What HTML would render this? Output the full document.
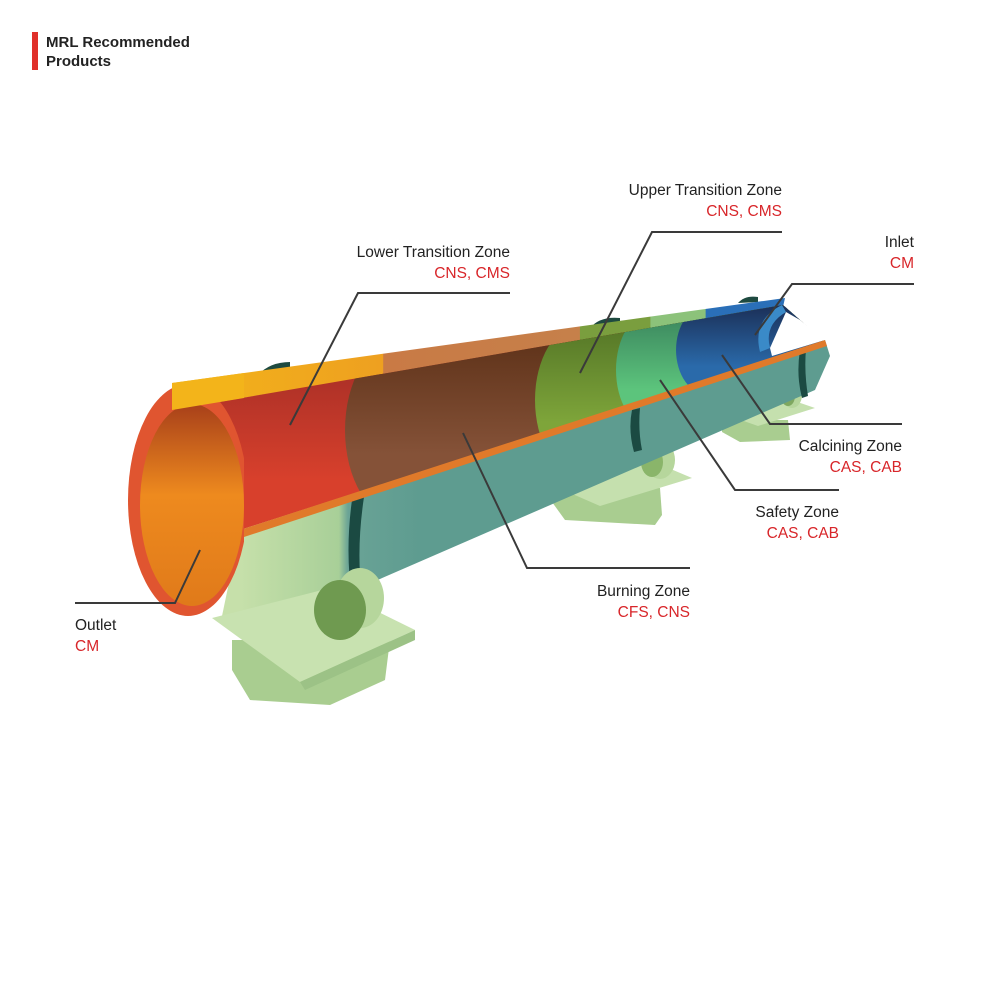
<!DOCTYPE html>
<html><head><meta charset="utf-8"><style>
html,body{margin:0;padding:0;background:#fff}
svg{display:block;font-family:"Liberation Sans",sans-serif}
</style></head><body>
<svg width="1000" height="1000" viewBox="0 0 1000 1000" xmlns="http://www.w3.org/2000/svg">
<defs>
<linearGradient id="strip" gradientUnits="userSpaceOnUse" x1="172" y1="0" x2="785" y2="0">
<stop offset="0" stop-color="#f3b41a"/><stop offset="0.344" stop-color="#eea020"/>
<stop offset="0.345" stop-color="#c97a45"/><stop offset="0.665" stop-color="#c6804a"/>
<stop offset="0.666" stop-color="#7a9e3e"/><stop offset="0.78" stop-color="#7a9e3e"/>
<stop offset="0.781" stop-color="#8cc27a"/><stop offset="0.87" stop-color="#8cc27a"/>
<stop offset="0.871" stop-color="#2a6fb8"/><stop offset="1" stop-color="#2a6fb8"/>
</linearGradient>
<linearGradient id="shell" gradientUnits="userSpaceOnUse" x1="240" y1="0" x2="420" y2="0">
<stop offset="0" stop-color="#c6e0aa"/><stop offset="0.55" stop-color="#a8cf98"/><stop offset="0.6" stop-color="#6aa396"/><stop offset="1" stop-color="#5e9c90"/>
</linearGradient>
<linearGradient id="red" x1="0" y1="0" x2="0" y2="1"><stop offset="0" stop-color="#8e2624"/><stop offset="0.6" stop-color="#d8402c"/></linearGradient>
<linearGradient id="brown" x1="0" y1="0" x2="0" y2="1"><stop offset="0" stop-color="#52280f"/><stop offset="0.7" stop-color="#855238"/></linearGradient>
<linearGradient id="olive" x1="0" y1="0" x2="0" y2="1"><stop offset="0" stop-color="#4a6a22"/><stop offset="0.7" stop-color="#7ea53a"/></linearGradient>
<linearGradient id="green" x1="0" y1="0" x2="0" y2="1"><stop offset="0" stop-color="#357a58"/><stop offset="0.7" stop-color="#5cc47c"/></linearGradient>
<linearGradient id="blue" x1="0" y1="0" x2="0" y2="1"><stop offset="0" stop-color="#1a2a50"/><stop offset="0.7" stop-color="#2a6aaa"/></linearGradient>
<linearGradient id="orange" x1="0" y1="0" x2="0" y2="1"><stop offset="0" stop-color="#a8401a"/><stop offset="0.45" stop-color="#ee8a1e"/><stop offset="1" stop-color="#e07a1a"/></linearGradient>
<clipPath id="inner"><polygon points="172,410 783,305 825,342 240,530 172,560"/></clipPath>
<clipPath id="leftc"><rect x="0" y="0" width="244" height="1000"/></clipPath>
</defs>

<rect x="32" y="32" width="6" height="38" fill="#e0302a"/>
<text x="46" y="47" font-size="15" font-weight="bold" fill="#222">MRL Recommended</text>
<text x="46" y="66" font-size="15" font-weight="bold" fill="#222">Products</text>

<polygon points="722,420 788,420 790,440 740,442 722,432" fill="#a9cd90"/>
<polygon points="718,412 780,396 815,408 758,426" fill="#c5e0ae"/>
<ellipse cx="792" cy="395" rx="10" ry="13" fill="#b6d69c"/><ellipse cx="788" cy="396" rx="7" ry="10" fill="#7fa860"/>
<polygon points="555,488 660,488 662,515 655,525 565,520 552,502" fill="#a9cd90"/>
<polygon points="545,482 640,456 692,478 600,506" fill="#c5e0ae"/>
<ellipse cx="660" cy="460" rx="15" ry="19" fill="#b6d69c"/><ellipse cx="652" cy="462" rx="11" ry="15" fill="#8ab56a"/>

<path d="M258,375 Q270,362 290,362 L290,370 Z" fill="#1e4a40"/>
<path d="M590,328 Q600,316 620,318 L620,325 Z" fill="#1e4a40"/>
<path d="M738,303 Q745,295 758,297 L758,302 Z" fill="#1e4a40"/>

<polygon points="240,530 825,340 830,356 815,390 350,592 222,616" fill="url(#shell)"/>
<path d="M352,500 Q345,550 352,600 L362,596 Q356,550 364,497 Z" fill="#1b4a42"/>
<path d="M632,410 Q628,430 634,452 L642,450 Q638,430 640,408 Z" fill="#1b4a42"/>
<path d="M800,350 Q796,375 802,398 L808,396 Q804,372 806,349 Z" fill="#1b4a42"/>

<polygon points="232,640 390,640 385,680 330,705 250,700 232,670" fill="#a9cd90"/>
<polygon points="212,618 330,588 415,630 300,682" fill="#c8e2b0"/>
<polygon points="300,682 415,630 415,640 305,690" fill="#9cc286"/>
<ellipse cx="360" cy="598" rx="24" ry="30" fill="#b6d69c"/>
<ellipse cx="340" cy="610" rx="26" ry="30" fill="#6f9a50"/>

<polygon points="172,383 785,298 783,307 172,410" fill="url(#strip)"/>

<g clip-path="url(#inner)">
<rect x="140" y="300" width="700" height="300" fill="url(#red)"/>
<path d="M400,340 A55,90 0 0 0 400,520 L850,520 L850,300 L400,300 Z" fill="url(#brown)"/>
<path d="M580,325 A45,75 0 0 0 580,475 L850,475 L850,300 L580,300 Z" fill="url(#olive)"/>
<path d="M652,312 A36,58 0 0 0 652,428 L850,428 L850,300 L652,300 Z" fill="url(#green)"/>
<path d="M708,305 A32,45 0 0 0 708,395 L850,395 L850,300 L708,300 Z" fill="url(#blue)"/>
</g>
<path d="M782,305 Q752,320 760,352 L770,348 Q764,325 786,312 Z" fill="#3a8ac8"/>
<polygon points="770,348 786,312 800,320 825,340 772,356" fill="#fff"/>
<polygon points="240,530 825,340 827,346 244,537" fill="#e07a2a"/>

<ellipse cx="188" cy="500" rx="60" ry="116" fill="#e05530" clip-path="url(#leftc)"/>
<ellipse cx="192" cy="505" rx="52" ry="101" fill="url(#orange)" clip-path="url(#leftc)"/>
<polygon points="172,383 244,373 244,398 172,410" fill="#f3b41a"/>

<g fill="none" stroke="#3a3a3a" stroke-width="2">
<polyline points="782,232 652,232 580,373"/>
<polyline points="510,293 358,293 290,425"/>
<polyline points="914,284 792,284 755,335"/>
<polyline points="902,424 770,424 722,355"/>
<polyline points="839,490 735,490 660,380"/>
<polyline points="690,568 527,568 463,433"/>
<polyline points="75,603 175,603 200,550"/>
</g>

<g font-size="15.5" text-anchor="end">
<text x="782" y="195" fill="#222">Upper Transition Zone</text><text x="782" y="216" fill="#d8262a">CNS, CMS</text>
<text x="510" y="257" fill="#222">Lower Transition Zone</text><text x="510" y="278" fill="#d8262a">CNS, CMS</text>
<text x="914" y="247" fill="#222">Inlet</text><text x="914" y="268" fill="#d8262a">CM</text>
<text x="902" y="451" fill="#222">Calcining Zone</text><text x="902" y="472" fill="#d8262a">CAS, CAB</text>
<text x="839" y="517" fill="#222">Safety Zone</text><text x="839" y="538" fill="#d8262a">CAS, CAB</text>
<text x="690" y="596" fill="#222">Burning Zone</text><text x="690" y="617" fill="#d8262a">CFS, CNS</text>
</g>
<text x="75" y="630" font-size="15.5" fill="#222">Outlet</text>
<text x="75" y="651" font-size="15.5" fill="#d8262a">CM</text>
</svg>
</body></html>
